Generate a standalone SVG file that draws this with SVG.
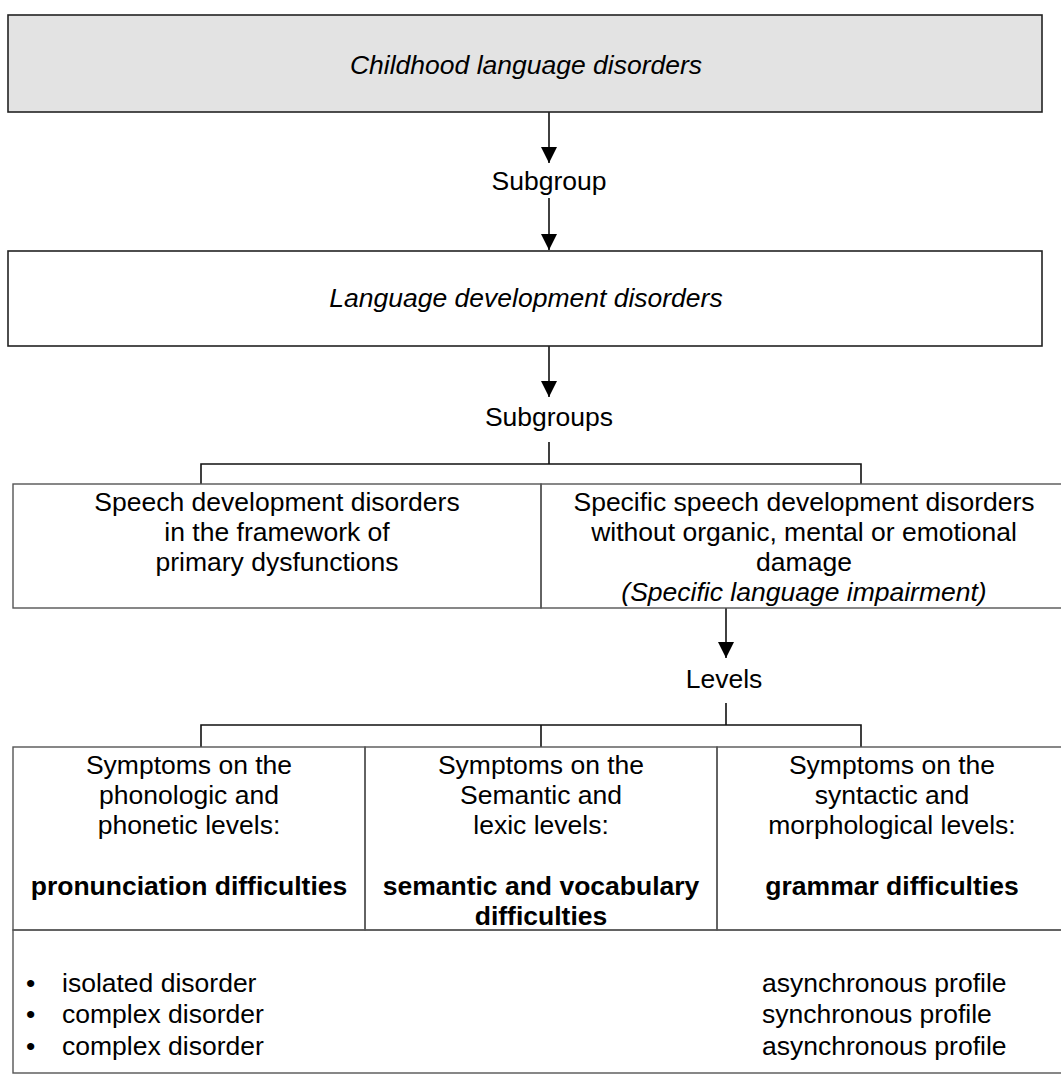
<svg xmlns="http://www.w3.org/2000/svg" width="1061" height="1075" viewBox="0 0 1061 1075">
  <style>
    text { font-family: "Liberation Sans", Arial, Helvetica, sans-serif; font-size: 26.5px; fill: #000; }
    .c { text-anchor: middle; }
    .i { font-style: italic; }
    .b { font-weight: bold; }
    .box { fill: #fff; stroke: #222; stroke-width: 1.6; }
    .shade { fill: #e3e3e3; }
    .cell { fill: none; stroke: #555; stroke-width: 1.4; }
    .wire { fill: none; stroke: #111; stroke-width: 1.6; }
  </style>
  <defs>
    <marker id="arrow" viewBox="0 0 16 16" refX="16" refY="8" markerWidth="16" markerHeight="16" markerUnits="userSpaceOnUse" orient="auto">
      <path d="M0,0 L16,8 L0,16 Z" fill="#000"/>
    </marker>
  </defs>
  <rect width="1061" height="1075" fill="#fff"/>

  <g id="connectors">
    <line class="wire" x1="549" y1="112" x2="549" y2="163" marker-end="url(#arrow)"/>
    <line class="wire" x1="549" y1="198" x2="549" y2="250" marker-end="url(#arrow)"/>
    <line class="wire" x1="549" y1="346" x2="549" y2="397" marker-end="url(#arrow)"/>
    <path class="wire" d="M549,442 V464 M201,484 V464 H861 V484"/>
    <line class="wire" x1="726" y1="608" x2="726" y2="658" marker-end="url(#arrow)"/>
    <path class="wire" d="M726,703 V725 M201,747 V725 H861 V747 M541,725 V747"/>
  </g>

  <g id="label-subgroup"><text class="c" x="549" y="190">Subgroup</text></g>
  <g id="label-subgroups"><text class="c" x="549" y="426">Subgroups</text></g>
  <g id="label-levels"><text class="c" x="724" y="688">Levels</text></g>

  <g id="node-childhood">
    <rect class="box shade" x="8" y="15" width="1034" height="97"/>
    <text class="c i" x="526" y="74">Childhood language disorders</text>
  </g>

  <g id="node-development">
    <rect class="box" x="8" y="251" width="1034" height="95"/>
    <text class="c i" x="526" y="307">Language development disorders</text>
  </g>

  <g id="node-primary">
    <rect class="cell" x="13" y="484" width="528" height="124"/>
    <text class="c" x="277" y="511">Speech development disorders</text>
    <text class="c" x="277" y="541">in the framework of</text>
    <text class="c" x="277" y="571">primary dysfunctions</text>
  </g>

  <g id="node-specific">
    <rect class="cell" x="541" y="484" width="530" height="124"/>
    <text class="c" x="804" y="511">Specific speech development disorders</text>
    <text class="c" x="804" y="541">without organic, mental or emotional</text>
    <text class="c" x="804" y="571">damage</text>
    <text class="c i" x="804" y="601">(Specific language impairment)</text>
  </g>

  <g id="node-phonologic">
    <rect class="cell" x="13" y="747" width="352" height="183"/>
    <text class="c" x="189" y="774">Symptoms on the</text>
    <text class="c" x="189" y="804">phonologic and</text>
    <text class="c" x="189" y="834">phonetic levels:</text>
    <text class="c b" x="189" y="895">pronunciation difficulties</text>
  </g>

  <g id="node-semantic">
    <rect class="cell" x="365" y="747" width="352" height="183"/>
    <text class="c" x="541" y="774">Symptoms on the</text>
    <text class="c" x="541" y="804">Semantic and</text>
    <text class="c" x="541" y="834">lexic levels:</text>
    <text class="c b" x="541" y="895">semantic and vocabulary</text>
    <text class="c b" x="541" y="925">difficulties</text>
  </g>

  <g id="node-syntactic">
    <rect class="cell" x="717" y="747" width="354" height="183"/>
    <text class="c" x="892" y="774">Symptoms on the</text>
    <text class="c" x="892" y="804">syntactic and</text>
    <text class="c" x="892" y="834">morphological levels:</text>
    <text class="c b" x="892" y="895">grammar difficulties</text>
  </g>

  <g id="node-profiles">
    <rect class="cell" x="13" y="930" width="1058" height="143"/>
    <text x="26" y="992">•</text>
    <text x="62" y="992">isolated disorder</text>
    <text x="26" y="1023">•</text>
    <text x="62" y="1023">complex disorder</text>
    <text x="26" y="1055">•</text>
    <text x="62" y="1055">complex disorder</text>
    <text x="762" y="992">asynchronous profile</text>
    <text x="762" y="1023">synchronous profile</text>
    <text x="762" y="1055">asynchronous profile</text>
  </g>
</svg>
